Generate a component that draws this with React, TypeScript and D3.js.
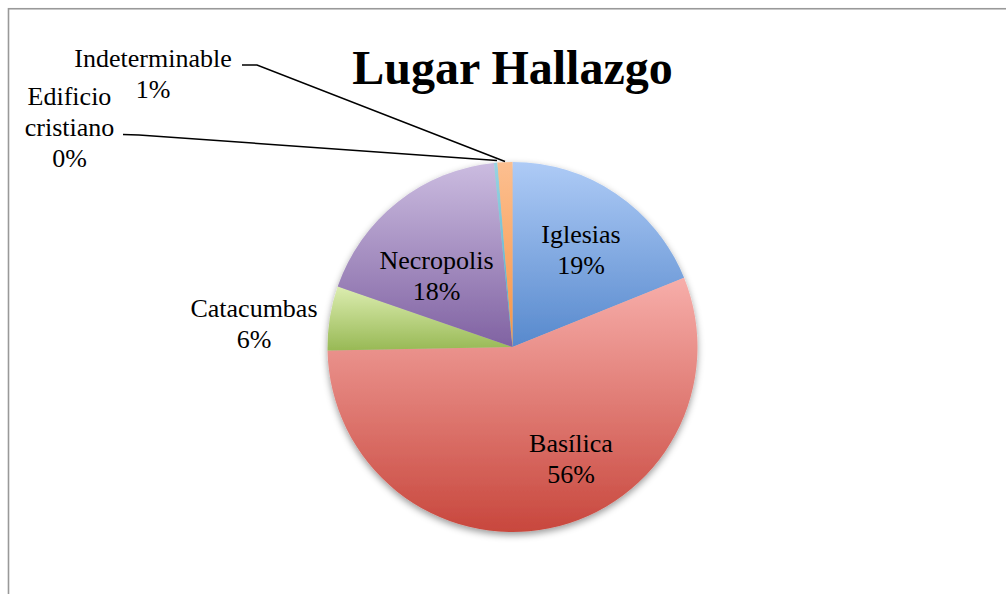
import React from "react";
import * as d3 from "d3";

const categories = ["Iglesias", "Basílica", "Catacumbas", "Necropolis", "Edificio cristiano", "Indeterminable"];
const values = [18.9, 55.8, 5.6, 18.1, 0.3, 1.3];
const labelText = ["19%", "56%", "6%", "18%", "0%", "1%"];
const topColors = ["#aecbf6", "#f7aeaa", "#dcedb0", "#cbbce0", "#9ad3e2", "#fcbf90"];
const bottomColors = ["#5789cd", "#c8473d", "#98b955", "#8062a2", "#46a9c4", "#f79445"];
const title = "Lugar Hallazgo";

const W = 1006, H = 594;
const cx = 512.5, cy = 347, R = 185;
const FONT = "'Liberation Serif', 'Times New Roman', serif";

// label layout: [centerX, firstBaseline, lines]
const labelLayout: { x: number; y: number; lines: string[] }[] = [
  { x: 581, y: 243, lines: ["Iglesias", "19%"] },
  { x: 571, y: 452, lines: ["Basílica", "56%"] },
  { x: 254, y: 317, lines: ["Catacumbas", "6%"] },
  { x: 436.5, y: 269, lines: ["Necropolis", "18%"] },
  { x: 69.5, y: 105, lines: ["Edificio", "cristiano", "0%"] },
  { x: 153, y: 67, lines: ["Indeterminable", "1%"] },
];

export default function App() {
  const pie = d3.pie<number>().sort(null).value((d) => d).startAngle(0).endAngle(2 * Math.PI);
  const arcs = pie(values);
  const arc = d3.arc<d3.PieArcDatum<number>>().innerRadius(0).outerRadius(R);
  const lineH = 31;

  const leaderEdificio: [number, number][] = [[123, 134.5], [139, 135], [497, 160.5]];
  const leaderIndet: [number, number][] = [[242, 65], [257, 65], [505, 161.5]];
  const line = d3.line();

  return (
    <svg width={W} height={H} style={{ position: "fixed", left: 0, top: 0, background: "#fff" }}>
      <defs>
        {categories.map((c, i) => (
          <linearGradient key={c} id={`g${i}`} x1="0" y1="0" x2="0" y2="1">
            <stop offset="0%" stopColor={topColors[i]} />
            <stop offset="100%" stopColor={bottomColors[i]} />
          </linearGradient>
        ))}
        <filter id="shadow" x="-20%" y="-20%" width="140%" height="150%">
          <feDropShadow dx="0" dy="3" stdDeviation="3.5" floodColor="#000" floodOpacity="0.4" />
        </filter>
      </defs>
      <rect x={8.5} y={8.75} width={1200} height={800} fill="#fff" stroke="#999" strokeWidth={1.6} />
      <text x={cx} y={84} textAnchor="middle" fontFamily={FONT} fontWeight="bold" fontSize={48} fill="#000">
        {title}
      </text>
      <g transform={`translate(${cx},${cy})`} filter="url(#shadow)">
        {arcs.map((a, i) => (
          <path key={categories[i]} d={arc(a) || ""} fill={`url(#g${i})`} />
        ))}
      </g>
      <path d={line(leaderEdificio) || ""} fill="none" stroke="#000" strokeWidth={1.5} />
      <path d={line(leaderIndet) || ""} fill="none" stroke="#000" strokeWidth={1.5} />
      {labelLayout.map((l, i) => (
        <text key={categories[i]} textAnchor="middle" fontFamily={FONT} fontSize={26} fill="#000">
          {l.lines.map((t, j) => (
            <tspan key={j} x={l.x} y={l.y + j * lineH}>
              {t}
            </tspan>
          ))}
        </text>
      ))}
    </svg>
  );
}
